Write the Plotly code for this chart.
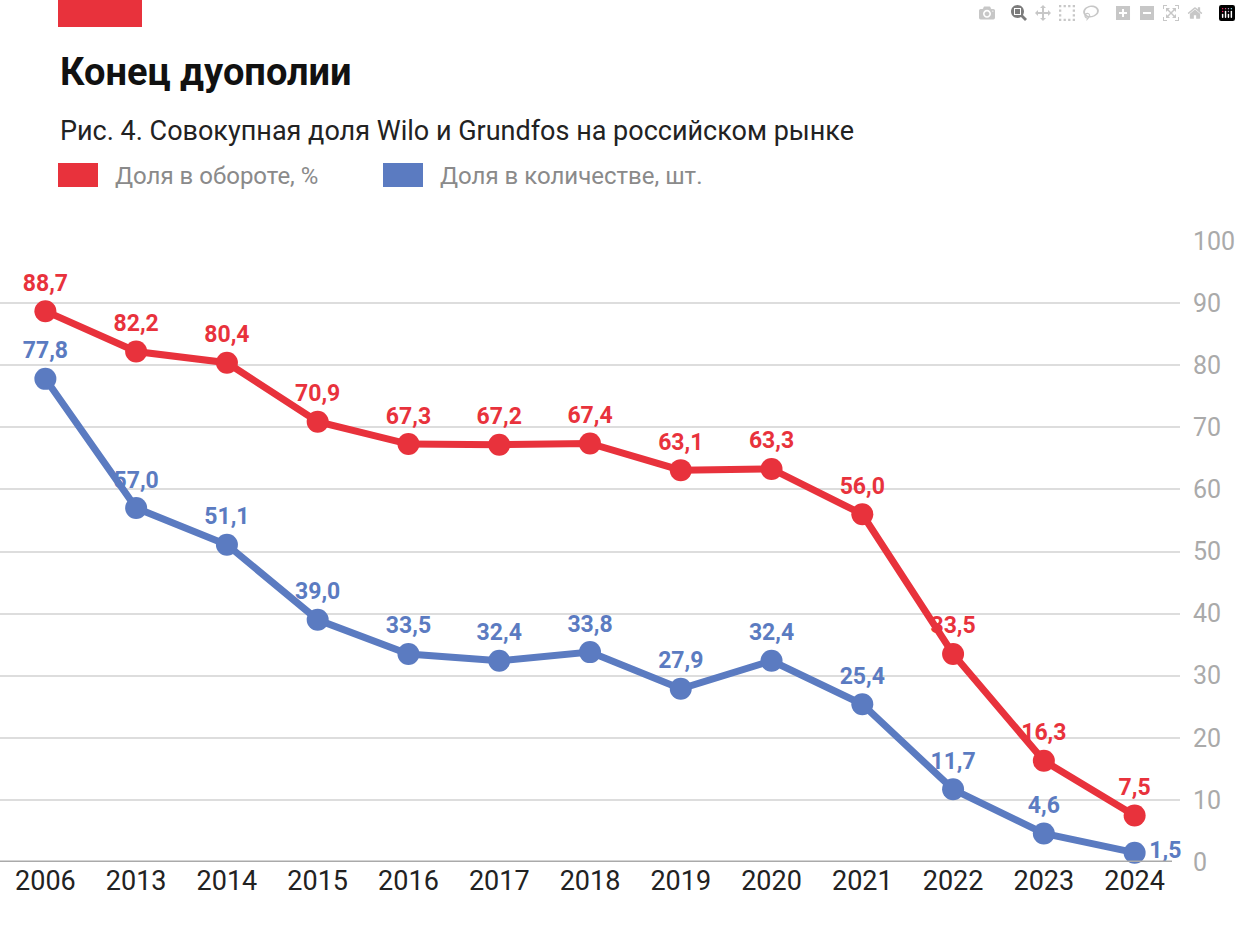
import plotly.graph_objects as go

years = ["2006","2013","2014","2015","2016","2017","2018","2019","2020","2021","2022","2023","2024"]
turnover = [88.7,82.2,80.4,70.9,67.3,67.2,67.4,63.1,63.3,56.0,33.5,16.3,7.5]
quantity = [77.8,57.0,51.1,39.0,33.5,32.4,33.8,27.9,32.4,25.4,11.7,4.6,1.5]
RED = "#e8323c"; BLUE = "#5b7bc1"

def fmt(v): return f"{v:.1f}".replace(".", ",")

W, H = 1241, 936
L, R, T, B = 0, 61, 241, 74
pw, ph = W-L-R, H-T-B
def px(x): return (x-L)/pw
def py(y): return (H-B-y)/ph

fig = go.Figure()
for vals, col, name, pos in [
        (quantity, BLUE, "Доля в количестве, шт.", ["top center"]*12 + ["middle right"]),
        (turnover, RED, "Доля в обороте, %", ["top center"]*13)]:
    fig.add_trace(go.Scatter(x=years, y=vals, mode="lines+markers+text", name=name,
        line=dict(color=col, width=7), marker=dict(size=22, color=col),
        text=[fmt(v) for v in vals], textposition=pos,
        textfont=dict(family="Roboto", size=23, color=col, weight="bold"),
        cliponaxis=False, showlegend=False))

shapes = [
    dict(type="rect", xref="paper", yref="paper", x0=px(58), x1=px(142), y0=py(27), y1=py(0), fillcolor=RED, line_width=0),
    dict(type="rect", xref="paper", yref="paper", x0=px(58), x1=px(98), y0=py(187), y1=py(163), fillcolor=RED, line_width=0),
    dict(type="rect", xref="paper", yref="paper", x0=px(383), x1=px(423), y0=py(187), y1=py(163), fillcolor=BLUE, line_width=0),
    dict(type="line", xref="paper", yref="y", x0=0, x1=px(1172), y0=0, y1=0, line=dict(color="#aaaaaa", width=3)),
]
ann = [
    dict(text="<b>Конец дуополии</b>", x=px(58), y=py(72), font=dict(size=38, color="#111", family="Roboto")),
    dict(text="Рис. 4. Совокупная доля Wilo и Grundfos на российском рынке", x=px(58), y=py(131), font=dict(size=27, color="#222", family="Roboto")),
    dict(text="Доля в обороте, %", x=px(113), y=py(176), font=dict(size=24, color="#8a8a8a", family="Roboto")),
    dict(text="Доля в количестве, шт.", x=px(438), y=py(176), font=dict(size=24, color="#8a8a8a", family="Roboto")),
]
for a in ann:
    a.update(xref="paper", yref="paper", xanchor="left", yanchor="middle", showarrow=False)

fig.update_layout(
    width=W, height=H, margin=dict(l=L, r=R, t=T, b=B),
    plot_bgcolor="white", paper_bgcolor="white",
    shapes=shapes, annotations=ann,
    xaxis=dict(type="category", range=[-0.5, 12.5], showgrid=False, ticks="",
               tickfont=dict(size=27, color="#222", family="Roboto")),
    yaxis=dict(side="right", range=[0, 100], dtick=10, gridcolor="#dddddd", gridwidth=2,
               zeroline=False, tickfont=dict(size=25, color="#aaaaaa", family="Roboto"), ticklabelstandoff=12),
)
fig.write_html("out.html", post_script="document.body.style.margin='0';document.body.style.overflow='hidden';")
